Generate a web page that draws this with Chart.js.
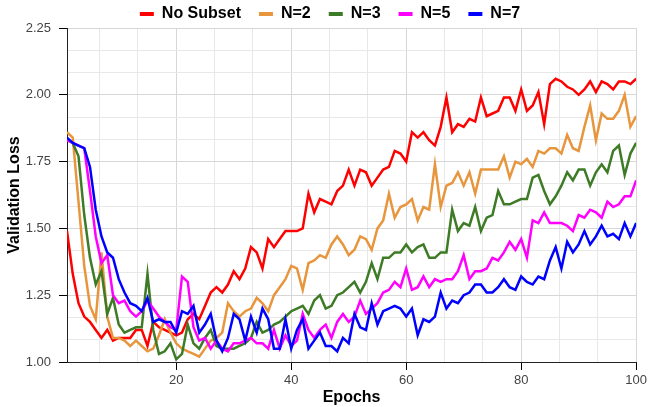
<!DOCTYPE html>
<html>
<head>
<meta charset="utf-8">
<script src="https://cdn.jsdelivr.net/npm/chart.js@4.4.1/dist/chart.umd.min.js"></script>
<style>
  html, body { margin: 0; padding: 0; background: #fff; }
  #wrap { width: 650px; height: 407px; }
</style>
</head>
<body>
<div id="wrap"><canvas id="lossChart" width="650" height="407"></canvas></div>
<script>
// epochs 1..100 on the x axis
const epochs = Array.from({ length: 100 }, (_, i) => i + 1);

const seriesNames = ["No Subset", "N=2", "N=3", "N=5", "N=7"];

const noSubset = [
    1.49, 1.33, 1.22, 1.17, 1.15, 1.12, 1.09, 1.12, 1.08, 1.09,
    1.09, 1.09, 1.12, 1.12, 1.06, 1.15, 1.13, 1.12, 1.11, 1.10,
    1.11, 1.16, 1.18, 1.16, 1.21, 1.26, 1.28, 1.26, 1.29, 1.34,
    1.31, 1.35, 1.43, 1.41, 1.35, 1.46, 1.43, 1.46, 1.49, 1.49,
    1.49, 1.50, 1.63, 1.56, 1.61, 1.60, 1.59, 1.64, 1.66, 1.72,
    1.66, 1.72, 1.71, 1.66, 1.69, 1.72, 1.73, 1.79, 1.78, 1.75,
    1.86, 1.84, 1.86, 1.83, 1.81, 1.88, 1.99, 1.86, 1.89, 1.88,
    1.91, 1.90, 1.99, 1.92, 1.93, 1.94, 1.99, 1.99, 1.94, 2.02,
    1.94, 1.96, 2.01, 1.89, 2.04, 2.06, 2.05, 2.03, 2.02, 2.00,
    2.02, 2.05, 2.01, 2.05, 2.04, 2.02, 2.05, 2.05, 2.04, 2.06
];

const n2 = [
    1.86, 1.84, 1.60, 1.36, 1.21, 1.16, 1.41, 1.17, 1.09, 1.09,
    1.08, 1.06, 1.08, 1.06, 1.04, 1.05, 1.10, 1.16, 1.11, 1.07,
    1.05, 1.04, 1.03, 1.02, 1.05, 1.08, 1.09, 1.11, 1.22, 1.19,
    1.17, 1.19, 1.20, 1.24, 1.22, 1.19, 1.25, 1.28, 1.31, 1.36,
    1.35, 1.27, 1.37, 1.38, 1.40, 1.39, 1.44, 1.47, 1.44, 1.40,
    1.42, 1.47, 1.46, 1.42, 1.50, 1.53, 1.63, 1.54, 1.58, 1.59,
    1.61, 1.53, 1.58, 1.57, 1.74, 1.58, 1.66, 1.67, 1.71, 1.66,
    1.71, 1.63, 1.72, 1.72, 1.72, 1.72, 1.77, 1.69, 1.75, 1.74,
    1.76, 1.73, 1.79, 1.78, 1.80, 1.80, 1.78, 1.85, 1.80, 1.79,
    1.88, 1.96, 1.83, 1.93, 1.91, 1.91, 1.94, 2.00, 1.88, 1.92
];

const n3 = [
    1.83, 1.82, 1.77, 1.55, 1.39, 1.29, 1.34, 1.18, 1.24, 1.14,
    1.11, 1.12, 1.13, 1.13, 1.33, 1.12, 1.03, 1.04, 1.07, 1.01,
    1.03, 1.14, 1.07, 1.05, 1.09, 1.12, 1.06, 1.05, 1.05, 1.05,
    1.06, 1.07, 1.09, 1.15, 1.11, 1.12, 1.14, 1.15, 1.17, 1.19,
    1.20, 1.21, 1.18, 1.23, 1.25, 1.20, 1.21, 1.25, 1.26, 1.28,
    1.30, 1.26, 1.30, 1.37, 1.31, 1.39, 1.39, 1.41, 1.41, 1.44,
    1.41, 1.43, 1.44, 1.39, 1.39, 1.41, 1.41, 1.57, 1.49, 1.52,
    1.51, 1.58, 1.49, 1.54, 1.55, 1.64, 1.59, 1.59, 1.60, 1.61,
    1.61, 1.69, 1.70, 1.64, 1.59, 1.62, 1.66, 1.71, 1.68, 1.72,
    1.72, 1.66, 1.71, 1.74, 1.71, 1.79, 1.81, 1.70, 1.78, 1.82
];

const n5 = [
    1.83, 1.82, 1.81, 1.80, 1.64, 1.47, 1.37, 1.40, 1.25, 1.22,
    1.23, 1.19, 1.17, 1.19, 1.23, 1.20, 1.17, 1.15, 1.13, 1.12,
    1.32, 1.30, 1.13, 1.08, 1.09, 1.05, 1.08, 1.05, 1.04, 1.07,
    1.07, 1.08, 1.09, 1.07, 1.07, 1.05, 1.12, 1.05, 1.10, 1.06,
    1.08, 1.18, 1.12, 1.09, 1.12, 1.14, 1.09, 1.15, 1.18, 1.15,
    1.17, 1.23, 1.18, 1.20, 1.22, 1.26, 1.27, 1.30, 1.28, 1.35,
    1.27, 1.28, 1.32, 1.28, 1.31, 1.30, 1.31, 1.31, 1.34, 1.40,
    1.31, 1.34, 1.34, 1.35, 1.39, 1.38, 1.41, 1.45, 1.42, 1.46,
    1.39, 1.53, 1.52, 1.56, 1.52, 1.52, 1.52, 1.51, 1.49, 1.55,
    1.54, 1.57, 1.56, 1.54, 1.60, 1.58, 1.59, 1.62, 1.62, 1.68
];

const n7 = [
    1.84, 1.82, 1.81, 1.80, 1.73, 1.57, 1.47, 1.41, 1.39, 1.31,
    1.26, 1.22, 1.21, 1.19, 1.24, 1.15, 1.16, 1.15, 1.15, 1.11,
    1.19, 1.18, 1.21, 1.11, 1.14, 1.18, 1.08, 1.04, 1.09, 1.18,
    1.16, 1.08, 1.17, 1.11, 1.20, 1.16, 1.05, 1.05, 1.16, 1.05,
    1.12, 1.16, 1.05, 1.08, 1.11, 1.06, 1.06, 1.04, 1.09, 1.07,
    1.18, 1.13, 1.12, 1.22, 1.14, 1.19, 1.20, 1.21, 1.20, 1.17,
    1.20, 1.10, 1.16, 1.15, 1.17, 1.26, 1.20, 1.23, 1.22, 1.25,
    1.26, 1.29, 1.29, 1.26, 1.26, 1.28, 1.31, 1.28, 1.27, 1.32,
    1.30, 1.29, 1.32, 1.31, 1.38, 1.43, 1.35, 1.45, 1.41, 1.44,
    1.49, 1.44, 1.47, 1.51, 1.47, 1.48, 1.46, 1.52, 1.47, 1.52
];

const seriesValues = [noSubset, n2, n3, n5, n7];
const seriesColors = ["#ff0000", "#e8963e", "#3d7b26", "#ff00ff", "#0000ff"];

// labelled ticks; grid lines fall every third of a major step
const xMajorTicks = [20, 40, 60, 80, 100];
const yMajorTicks = [1.00, 1.25, 1.50, 1.75, 2.00, 2.25];

const FONT = "'Liberation Sans', Arial, sans-serif";

function isMajor(list, v) {
    return list.some(t => Math.abs(t - v) < 1e-6);
}

// move the legend up/right after layout so it sits like the original
const legendNudge = {
    id: "legendNudge",
    afterLayout(chart) {
        const lg = chart.legend;
        if (!lg) return;
        lg.left += 9;
        lg.right += 9;
        lg.top = -12;
    }
};

const datasets = seriesNames.map((name, i) => ({
    label: name,
    data: epochs.map((e, j) => ({ x: e, y: seriesValues[i][j] })),
    borderColor: seriesColors[i],
    backgroundColor: seriesColors[i],
    borderWidth: 2.5,
    pointRadius: 0,
    tension: 0,
    order: seriesNames.length - i,
}));

new Chart(document.getElementById("lossChart"), {
    type: "line",
    data: { datasets },
    plugins: [legendNudge],
    options: {
        responsive: false,
        animation: false,
        devicePixelRatio: 1,
        layout: { padding: { left: 5, right: 13, top: 0, bottom: 0 } },
        plugins: {
            tooltip: { enabled: false },
            legend: {
                position: "top",
                maxHeight: 28,
                labels: {
                    boxWidth: 14,
                    boxHeight: 4,
                    padding: 18,
                    color: "#000",
                    font: { family: FONT, size: 16, weight: "bold" },
                    sort: (a, b) => a.datasetIndex - b.datasetIndex,
                    generateLabels(chart) {
                        const items = Chart.defaults.plugins.legend.labels.generateLabels(chart);
                        return items.map(it => ({ ...it, lineWidth: 0, fillStyle: it.strokeStyle }));
                    },
                },
            },
        },
        scales: {
            x: {
                type: "linear",
                min: 1,
                max: 100,
                afterBuildTicks(scale) {
                    const ticks = [];
                    for (let k = 1; k <= 15; k++) ticks.push({ value: k * 20 / 3 });
                    scale.ticks = ticks;
                },
                afterFit(scale) { scale.height = 45; },
                ticks: {
                    autoSkip: false,
                    maxRotation: 0,
                    padding: 3,
                    color: "#444",
                    font: { family: FONT, size: 13 },
                    callback: (v) => isMajor(xMajorTicks, v) ? String(Math.round(v)) : "",
                },
                grid: {
                    color: (ctx) => ctx.tick && isMajor(xMajorTicks, ctx.tick.value) ? "#d6d6d6" : "#e8e8e8",
                    tickColor: (ctx) => ctx.tick && isMajor(xMajorTicks, ctx.tick.value) ? "#000" : "rgba(0,0,0,0)",
                    tickLength: 8,
                    lineWidth: 1,
                },
                border: { color: "#222", width: 1 },
                title: {
                    display: true,
                    text: "Epochs",
                    color: "#000",
                    padding: 0,
                    font: { family: FONT, size: 16, weight: "bold" },
                },
            },
            y: {
                type: "linear",
                min: 1,
                max: 2.25,
                afterBuildTicks(scale) {
                    const ticks = [];
                    for (let k = 0; k <= 15; k++) ticks.push({ value: 1 + k / 12 });
                    scale.ticks = ticks;
                },
                afterFit(scale) { scale.width = 62; },
                ticks: {
                    autoSkip: false,
                    padding: 8,
                    color: "#444",
                    font: { family: FONT, size: 13 },
                    callback: (v) => isMajor(yMajorTicks, v) ? v.toFixed(2) : "",
                },
                grid: {
                    color: (ctx) => ctx.tick && isMajor(yMajorTicks, ctx.tick.value) ? "#d6d6d6" : "#e8e8e8",
                    tickColor: (ctx) => ctx.tick && isMajor(yMajorTicks, ctx.tick.value) ? "#000" : "rgba(0,0,0,0)",
                    tickLength: 8,
                    lineWidth: 1,
                },
                border: { color: "#222", width: 1 },
                title: {
                    display: true,
                    text: "Validation Loss",
                    color: "#000",
                    padding: 0,
                    font: { family: FONT, size: 16, weight: "bold" },
                },
            },
        },
    },
});
</script>
</body>
</html>
